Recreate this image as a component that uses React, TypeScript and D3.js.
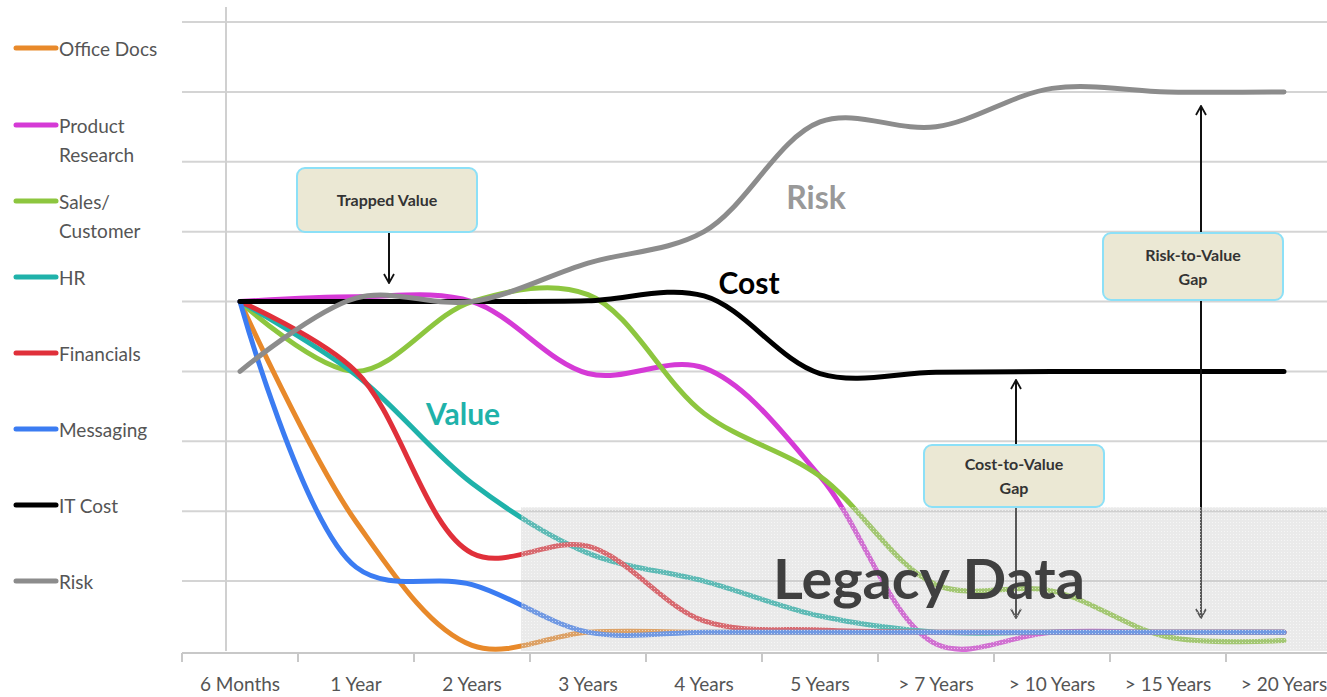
import React, { useEffect, useRef } from "react";
import * as d3 from "d3";

// categories along the bottom
const categories = [
  "6 Months",
  "1 Year",
  "2 Years",
  "3 Years",
  "4 Years",
  "5 Years",
  "> 7 Years",
  "> 10 Years",
  "> 15 Years",
  "> 20 Years",
];

// series values (grid units, 0 = axis)
const officeDocs = [5, 1.85, 0.08, 0.27, 0.27, 0.27, 0.27, 0.27, 0.27, 0.27];
const productResearch = [5, 5.07, 5.0, 3.97, 4.05, 2.5, 0.1, 0.27, 0.27, 0.27];
const salesCustomer = [5, 4.0, 5.0, 5.1, 3.4, 2.5, 0.95, 0.86, 0.2, 0.15];
const hr = [5, 3.95, 2.4, 1.4, 1.0, 0.5, 0.27, 0.27, 0.27, 0.27];
const financials = [5, 4.0, 1.4, 1.5, 0.43, 0.3, 0.27, 0.27, 0.27, 0.27];
const messaging = [5, 1.2, 0.95, 0.27, 0.27, 0.27, 0.27, 0.27, 0.27, 0.27];
const itCost = [5, 5, 5, 5.01, 5.08, 3.97, 3.99, 4, 4, 4];
const risk = [4, 5.05, 5.0, 5.55, 6.0, 7.57, 7.5, 8.05, 8.0, 8.0];

const gridValues = [1, 2, 3, 4, 5, 6, 7, 8, 9];

const series = [
  { name: "Office Docs", values: officeDocs, color: "#e8892a" },
  { name: "Product|Research", values: productResearch, color: "#d53ad6" },
  { name: "Sales/|Customer", values: salesCustomer, color: "#8dc63f" },
  { name: "HR", values: hr, color: "#1fb2aa" },
  { name: "Financials", values: financials, color: "#e0303a" },
  { name: "Messaging", values: messaging, color: "#3b7cf2" },
  { name: "IT Cost", values: itCost, color: "#000000" },
  { name: "Risk", values: risk, color: "#8c8c8c" },
];

const FONT = "Lato, 'Open Sans', sans-serif";

const App = () => {
  const ref = useRef<SVGSVGElement | null>(null);

  useEffect(() => {
    if (!ref.current) return;
    const svg = d3.select(ref.current);
    svg.selectAll("*").remove();

    const x = d3.scaleBand<string>().domain(categories).range([182, 182 + 116 * 10]);
    const y = d3.scaleLinear().domain([0, 9]).range([651, 22]);
    const cx = (i: number) => (x(categories[i]) as number) + x.bandwidth() / 2;

    const defs = svg.append("defs");
    const pat = defs
      .append("pattern")
      .attr("id", "legacy")
      .attr("width", 3)
      .attr("height", 3)
      .attr("patternUnits", "userSpaceOnUse");
    pat.append("rect").attr("width", 3).attr("height", 3).attr("fill", "rgba(200,200,200,0.38)");
    pat.append("rect").attr("width", 1).attr("height", 1).attr("fill", "rgba(255,255,255,0.6)");

    const marker = defs
      .append("marker")
      .attr("id", "arr")
      .attr("viewBox", "0 0 12 12")
      .attr("refX", 11)
      .attr("refY", 6)
      .attr("markerWidth", 12)
      .attr("markerHeight", 12)
      .attr("markerUnits", "userSpaceOnUse")
      .attr("orient", "auto-start-reverse");
    marker
      .append("path")
      .attr("d", "M2,1 L11,6 L2,11")
      .attr("fill", "none")
      .attr("stroke", "#111")
      .attr("stroke-width", 1.8);

    // gridlines
    svg
      .append("g")
      .selectAll("line")
      .data(gridValues)
      .enter()
      .append("line")
      .attr("x1", 182)
      .attr("x2", 1327)
      .attr("y1", (d) => y(d))
      .attr("y2", (d) => y(d))
      .attr("stroke", "#d4d4d4")
      .attr("stroke-width", 2);

    // vertical axis line
    svg
      .append("line")
      .attr("x1", 226)
      .attr("x2", 226)
      .attr("y1", 7)
      .attr("y2", y(0))
      .attr("stroke", "#d0d0d0")
      .attr("stroke-width", 2);

    // x axis
    const xAxis = d3.axisBottom(x).tickSize(0).tickPadding(25);
    const ax = svg.append("g").attr("transform", `translate(0, ${y(0) + 2})`).call(xAxis);
    ax.select(".domain").remove();
    ax.selectAll("text")
      .attr("font-family", FONT)
      .attr("font-size", 19)
      .attr("fill", "#555");
    svg
      .append("line")
      .attr("x1", 182)
      .attr("x2", 1327)
      .attr("y1", y(0) + 2)
      .attr("y2", y(0) + 2)
      .attr("stroke", "#c8c8c8")
      .attr("stroke-width", 2);
    svg
      .append("g")
      .selectAll("line")
      .data(categories)
      .enter()
      .append("line")
      .attr("x1", (d) => x(d) as number)
      .attr("x2", (d) => x(d) as number)
      .attr("y1", y(0) + 2)
      .attr("y2", y(0) + 11)
      .attr("stroke", "#c8c8c8")
      .attr("stroke-width", 2);

    // series lines
    const line = d3
      .line<number>()
      .x((_, i) => cx(i))
      .y((d) => y(d))
      .curve(d3.curveCatmullRom.alpha(0.5));

    series.forEach((s) => {
      svg
        .append("path")
        .datum(s.values)
        .attr("fill", "none")
        .attr("stroke", s.color)
        .attr("stroke-width", 5)
        .attr("stroke-linecap", "round")
        .attr("d", line);
    });

    // arrows
    const arrow = (x1: number, y1: number, x2: number, y2: number, both = false) => {
      const l = svg
        .append("line")
        .attr("x1", x1)
        .attr("y1", y1)
        .attr("x2", x2)
        .attr("y2", y2)
        .attr("stroke", "#111")
        .attr("stroke-width", 2)
        .attr("marker-end", "url(#arr)");
      if (both) l.attr("marker-start", "url(#arr)");
    };
    arrow(389, 232, 389, 283);
    arrow(1201, 618, 1201, 106, true);
    arrow(1016, 445, 1016, 380);
    arrow(1016, 507, 1016, 618);

    // legacy data shaded area
    svg
      .append("rect")
      .attr("x", 521)
      .attr("y", y(2) - 4)
      .attr("width", 1327 - 521)
      .attr("height", y(0) - y(2) + 4)
      .attr("fill", "url(#legacy)");
    svg
      .append("text")
      .attr("x", 929)
      .attr("y", 599)
      .attr("text-anchor", "middle")
      .attr("font-family", FONT)
      .attr("font-weight", 700)
      .attr("font-size", 56)
      .attr("textLength", 312)
      .attr("lengthAdjust", "spacingAndGlyphs")
      .attr("fill", "#404040")
      .text("Legacy Data");

    // callout boxes
    const box = (bx: number, by: number, w: number, h: number, lines: string[]) => {
      svg
        .append("rect")
        .attr("x", bx)
        .attr("y", by)
        .attr("width", w)
        .attr("height", h)
        .attr("rx", 8)
        .attr("fill", "#ebe8d4")
        .attr("stroke", "#8ce0f7")
        .attr("stroke-width", 2);
      const t = svg
        .append("text")
        .attr("text-anchor", "middle")
        .attr("font-family", FONT)
        .attr("font-weight", 700)
        .attr("font-size", 16)
        .attr("fill", "#333");
      const lh = 24;
      const y0 = by + h / 2 - ((lines.length - 1) * lh) / 2 + 6;
      lines.forEach((s, i) => {
        t.append("tspan").attr("x", bx + w / 2).attr("y", y0 + i * lh).text(s);
      });
    };
    box(297, 168, 180, 64, ["Trapped Value"]);
    box(1103, 233, 180, 67, ["Risk-to-Value", "Gap"]);
    box(924, 445, 180, 62, ["Cost-to-Value", "Gap"]);

    // series labels on chart
    const label = (tx: number, ty: number, s: string, color: string, size: number) => {
      svg
        .append("text")
        .attr("x", tx)
        .attr("y", ty)
        .attr("text-anchor", "middle")
        .attr("font-family", FONT)
        .attr("font-weight", 700)
        .attr("font-size", size)
        .attr("fill", color)
        .text(s);
    };
    label(463, 425, "Value", "#1fb2aa", 30);
    label(749, 294, "Cost", "#000", 30);
    label(816, 209, "Risk", "#999", 32);

    // legend
    const legendY = [48, 125, 201, 277, 353, 429, 505, 581];
    const lg = svg.append("g");
    series.forEach((s, i) => {
      lg.append("line")
        .attr("x1", 16)
        .attr("x2", 56)
        .attr("y1", legendY[i])
        .attr("y2", legendY[i])
        .attr("stroke", s.color)
        .attr("stroke-width", 5)
        .attr("stroke-linecap", "round");
      const t = lg
        .append("text")
        .attr("font-family", FONT)
        .attr("font-size", 19)
        .attr("fill", "#555");
      s.name.split("|").forEach((part, j) => {
        t.append("tspan")
          .attr("x", 59)
          .attr("y", legendY[i] + 8 + j * 29)
          .text(part);
      });
    });
  }, []);

  return (
    <div style={{ position: "absolute", left: 0, top: 0 }}>
      <svg ref={ref} width={1327} height={697} style={{ display: "block", background: "#fff" }} />
    </div>
  );
};

export default App;
